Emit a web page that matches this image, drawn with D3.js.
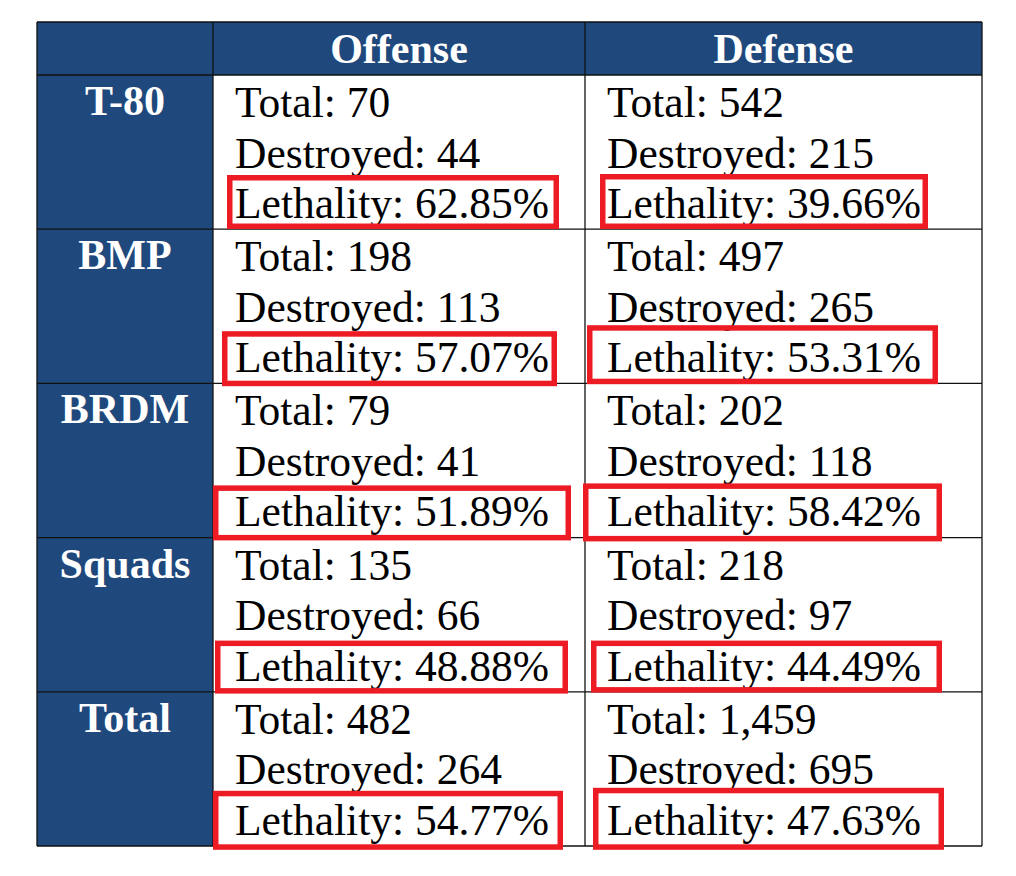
<!DOCTYPE html>
<html>
<head>
<meta charset="utf-8">
<script src="https://cdn.jsdelivr.net/npm/d3@7"></script>
<style>
  html, body { margin: 0; padding: 0; background: #fff; }
  svg { display: block; }
</style>
</head>
<body>
<svg id="chart" width="1016" height="876"></svg>
<script>
// ---- data ----
const columns = ["Offense", "Defense"];
const categories = ["T-80", "BMP", "BRDM", "Squads", "Total"];
const offenseTotal = [70, 198, 79, 135, 482];
const offenseDestroyed = [44, 113, 41, 66, 264];
const offenseLethality = ["62.85%", "57.07%", "51.89%", "48.88%", "54.77%"];
const defenseTotal = [542, 497, 202, 218, 1459];
const defenseDestroyed = [215, 265, 118, 97, 695];
const defenseLethality = ["39.66%", "53.31%", "58.42%", "44.49%", "47.63%"];

// ---- annotation styling (hand-drawn highlight boxes, offsets relative to cell) ----
// [left, right, top, bottom] offsets from the cell's left edge / top edge
const boxOffsetsOffense = [[14, 346, 100, 154], [9, 344, 102, 157], [0, 358, 102, 157], [2, 355, 103, 156], [0, 350, 99, 158]];
const boxOffsetsDefense = [[15, 343, 99, 154], [2, 353, 96, 155], [-2, 357, 100, 158], [6, 357, 103, 155], [8, 359, 96, 158]];

const svg = d3.select("#chart");
const blue = "#1F497D";
const red = "#ED1C24";

const tableLeft = 37, tableRight = 982, headTop = 22, bodyTop = 75, bodyBottom = 846;

const x = d3.scaleOrdinal().domain(["label", ...columns]).range([37, 213, 585]);
const xEnd = d3.scaleOrdinal().domain(["label", ...columns]).range([213, 585, 982]);
const y = d3.scaleBand().domain(categories).range([bodyTop, bodyBottom]).padding(0);

const fmt = d3.format(",");

// header background + label column background
svg.append("rect").attr("x", tableLeft).attr("y", headTop)
  .attr("width", tableRight - tableLeft).attr("height", bodyTop - headTop).attr("fill", blue);
svg.append("rect").attr("x", tableLeft).attr("y", bodyTop)
  .attr("width", x("Offense") - tableLeft).attr("height", bodyBottom - bodyTop).attr("fill", blue);

// grid lines
const g = svg.append("g").attr("stroke", "#111").attr("stroke-width", 1.3).attr("fill", "none");
// horizontal lines
[headTop, bodyTop, ...categories.slice(1).map(c => y(c)), bodyBottom].forEach(v => {
  g.append("line").attr("x1", tableLeft).attr("x2", tableRight).attr("y1", v).attr("y2", v);
});
// vertical lines
[tableLeft, x("Offense"), x("Defense"), tableRight].forEach(v => {
  g.append("line").attr("x1", v).attr("x2", v).attr("y1", headTop).attr("y2", bodyBottom);
});

// header text
svg.selectAll("text.head").data(columns).join("text")
  .attr("class", "head")
  .attr("x", d => (x(d) + xEnd(d)) / 2)
  .attr("y", 63)
  .attr("text-anchor", "middle")
  .attr("fill", "#fff")
  .attr("font-family", "'Liberation Serif', 'Times New Roman', serif")
  .attr("font-weight", "bold")
  .attr("font-size", 42)
  .text(d => d);

// row labels
svg.selectAll("text.rowlab").data(categories).join("text")
  .attr("class", "rowlab")
  .attr("x", (x("label") + xEnd("label")) / 2)
  .attr("y", d => y(d) + 40)
  .attr("text-anchor", "middle")
  .attr("fill", "#fff")
  .attr("font-family", "'Liberation Serif', 'Times New Roman', serif")
  .attr("font-weight", "bold")
  .attr("font-size", 42)
  .text(d => d);

// cell texts
const cells = [];
categories.forEach((c, i) => {
  cells.push({ cat: c, col: "Offense", lines: ["Total: " + fmt(offenseTotal[i]), "Destroyed: " + fmt(offenseDestroyed[i]), "Lethality: " + offenseLethality[i]], box: boxOffsetsOffense[i] });
  cells.push({ cat: c, col: "Defense", lines: ["Total: " + fmt(defenseTotal[i]), "Destroyed: " + fmt(defenseDestroyed[i]), "Lethality: " + defenseLethality[i]], box: boxOffsetsDefense[i] });
});

const lineOffsets = [42, 92.5, 143];

const cellG = svg.selectAll("g.cell").data(cells).join("g").attr("class", "cell");
cellG.each(function(d) {
  const sel = d3.select(this);
  sel.selectAll("text").data(d.lines).join("text")
    .attr("x", x(d.col) + 22)
    .attr("y", (t, j) => y(d.cat) + lineOffsets[j])
    .attr("fill", "#000")
    .attr("font-family", "'Liberation Serif', 'Times New Roman', serif")
    .attr("font-size", 43.5)
    .text(t => t);
  const b = d.box;
  const sw = 5.5;
  sel.append("rect")
    .attr("x", x(d.col) + b[0] + sw / 2)
    .attr("y", y(d.cat) + b[2] + sw / 2)
    .attr("width", b[1] - b[0] - sw)
    .attr("height", b[3] - b[2] - sw)
    .attr("fill", "none")
    .attr("stroke", red)
    .attr("stroke-width", sw);
});
</script>
</body>
</html>
